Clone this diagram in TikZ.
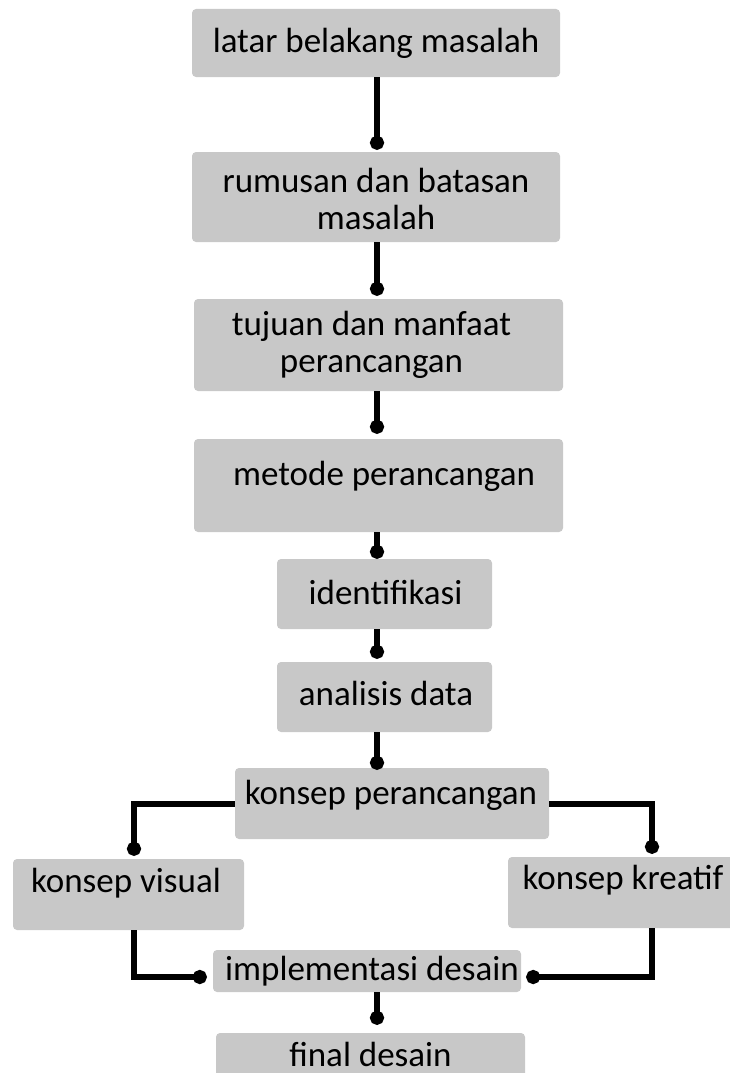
\documentclass[tikz,border=0pt]{standalone}
\usepackage{fontspec}
\setmainfont{Carlito}
\usetikzlibrary{arrows.meta}
\definecolor{boxgray}{RGB}{200,200,200}

\begin{document}
\begin{tikzpicture}[x=1pt,y=-1pt,
  box/.style={fill=boxgray,rounded corners=4pt,inner sep=0pt},
  txt/.style={font=\fontsize{35}{37}\selectfont,inner sep=0pt},
  link/.style={line width=6pt,-{Circle[length=14pt,width=14pt]}}]
\useasboundingbox (0,0) rectangle (730,1073);
\coordinate (spine) at (377,0);
% main column
\node[box,minimum width=368pt,minimum height=68pt,label={[txt]center:latar belakang masalah}] (latar) at (376,43) {};
\node[box,minimum width=368pt,minimum height=90pt,label={[txt,align=center,yshift=-1.5pt]center:{rumusan dan batasan\\masalah}}] (rumusan) at (376,197) {};
\node[box,minimum width=369pt,minimum height=92pt,label={[txt,align=center,xshift=-7pt]center:{tujuan dan manfaat\\perancangan}}] (tujuan) at (378.5,345) {};
\node[box,minimum width=369pt,minimum height=93pt,label={[txt,xshift=5.5pt,yshift=9pt]center:metode perancangan}] (metode) at (378.5,485.5) {};
\node[box,minimum width=215pt,minimum height=70pt,label={[txt,xshift=1pt,yshift=2pt]center:identifikasi}] (ident) at (384.5,594) {};
\node[box,minimum width=215pt,minimum height=70pt,label={[txt,xshift=1.5pt,yshift=4pt]center:analisis data}] (analisis) at (384.5,697) {};
\node[box,minimum width=314pt,minimum height=71pt,label={[txt,xshift=-1pt,yshift=8.5pt]center:konsep perancangan}] (konsep) at (392,803.5) {};
% branches
\node[box,minimum width=231pt,minimum height=71pt,label={[txt,xshift=-2.5pt,yshift=11.5pt]center:konsep visual}] (visual) at (128.5,894.5) {};
\node[box,minimum width=228pt,minimum height=71pt,label={[txt,xshift=1pt,yshift=12.5pt]center:konsep kreatif}] (kreatif) at (622,892.5) {};
\node[box,minimum width=308pt,minimum height=42pt,label={[txt,xshift=5pt]center:implementasi desain}] (impl) at (367,971) {};
\node[box,minimum width=309pt,minimum height=52pt,label={[txt,yshift=5pt]center:final desain}] (final) at (370.5,1059) {};
% connectors
\draw[link,shorten >=2pt] (spine |- latar.south) -- (spine |- rumusan.north);
\draw[link,shorten >=3pt] (spine |- rumusan.south) -- (spine |- tujuan.north);
\draw[link,shorten >=5pt] (spine |- tujuan.south) -- (spine |- metode.north);
\draw[link] (spine |- metode.south) -- (spine |- ident.north);
\draw[link,shorten >=3pt] (spine |- ident.south) -- (spine |- analisis.north);
\draw[link,shorten >=-2pt] (spine |- analisis.south) -- (spine |- konsep.north);
\draw[link,shorten >=3pt] (konsep.west) -| ([xshift=5.5pt]visual.north);
\draw[link,shorten >=3pt] (konsep.east) -| ([xshift=30pt]kreatif.north);
\draw[link,shorten >=6pt] ([xshift=5.5pt]visual.south) |- ([yshift=-6pt]impl.west);
\draw[link,shorten >=5pt] ([xshift=30pt]kreatif.south) |- ([yshift=-6pt]impl.east);
\draw[link,shorten >=8pt] (spine |- impl.south) -- (spine |- final.north);
\end{tikzpicture}
\end{document}
